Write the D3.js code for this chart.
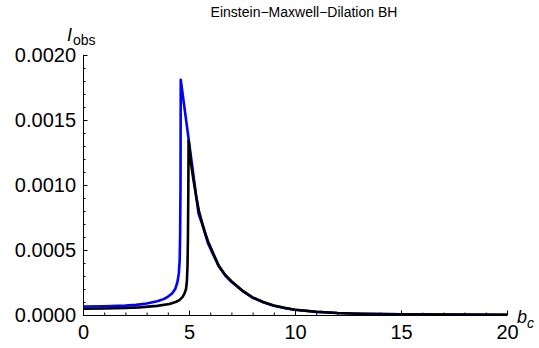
<!DOCTYPE html>
<html>
<head>
<meta charset="utf-8">
<script src="https://cdn.jsdelivr.net/npm/d3@7"></script>
<style>
  body { margin: 0; background: #fff; }
  svg { display: block; font-family: "Liberation Sans", Arial, sans-serif; }
</style>
</head>
<body>
<svg id="chart" width="539" height="348"></svg>
<script>
// values
var title = "Einstein\u2212Maxwell\u2212Dilation BH";

var blueB = [0, 1, 2, 2.5, 3, 3.5, 3.8, 4.0, 4.2, 4.35, 4.45, 4.52, 4.56, 4.58, 4.6, 4.61,
             5.45, 5.6, 5.75, 5.9, 6.1, 6.4, 6.7, 7.0, 7.5, 8.0, 8.5, 9.0, 9.5, 10, 11, 12, 13, 14, 15, 17, 20];
var blueI = [0.000065, 0.000067, 0.000072, 0.000078, 0.000088, 0.000105, 0.000122, 0.00014,
             0.000165, 0.0002, 0.00025, 0.00032, 0.00042, 0.0006, 0.001, 0.00181,
             0.00078, 0.00071, 0.00063, 0.00055, 0.00048, 0.000375, 0.000305, 0.000255, 0.000188,
             0.000133, 0.000098, 0.000071, 0.000054, 0.00004, 0.000024, 0.000015, 0.00001,
             0.000007, 0.000005, 0.000003, 0.0000015];

var blackB = [0, 1, 2, 2.65, 3.5, 4.08, 4.4, 4.55, 4.7, 4.79, 4.86, 4.9, 4.93, 4.95, 4.97, 4.98,
              5.1, 5.2, 5.34, 5.47, 5.6, 5.75, 5.9, 6.1, 6.4, 6.7, 7.0, 7.5, 8.0, 8.5, 9.0, 9.5,
              10, 11, 12, 13, 14, 15, 17, 20];
var blackI = [0.000048, 0.00005, 0.000054, 0.000059, 0.00007, 0.000084, 0.000102, 0.000115,
              0.00014, 0.000166, 0.0002, 0.00026, 0.00038, 0.0006, 0.001, 0.00134,
              0.00116, 0.00105, 0.00091, 0.0008, 0.00072, 0.00064, 0.000565, 0.00049, 0.00038,
              0.00031, 0.00026, 0.00019, 0.000136, 0.0001, 0.000073, 0.000055,
              0.000041, 0.000025, 0.000015, 0.00001, 0.000007, 0.000005, 0.000003, 0.0000015];

var xMajor = [0, 5, 10, 15, 20];
var yMajor = [0, 0.0005, 0.001, 0.0015, 0.002];

var svg = d3.select("#chart");

var x = d3.scaleLinear().domain([0, 20]).range([83, 507]);
var y = d3.scaleLinear().domain([0, 0.002]).range([315, 55]);

// minor ticks
var xMinor = d3.range(0, 20.001, 1).filter(function(d) { return d % 5 !== 0; });
var yMinor = d3.range(0, 21).map(function(d) { return d * 0.0001; })
    .filter(function(d, i) { return i % 5 !== 0; });

svg.append("g")
    .attr("transform", "translate(0," + y(0) + ")")
    .call(d3.axisBottom(x).tickValues(xMinor).tickSize(-2.5).tickFormat(""))
    .call(function(g) { g.select(".domain").remove(); });

svg.append("g")
    .attr("transform", "translate(" + x(0) + ",0)")
    .call(d3.axisLeft(y).tickValues(yMinor).tickSize(-2.5).tickFormat(""))
    .call(function(g) { g.select(".domain").remove(); });

// major axes
svg.append("g")
    .attr("transform", "translate(0," + y(0) + ")")
    .call(d3.axisBottom(x).tickValues(xMajor).tickSizeInner(-4.5).tickSizeOuter(0).tickPadding(10)
        .tickFormat(d3.format("d")));

svg.append("g")
    .attr("transform", "translate(" + x(0) + ",0)")
    .call(d3.axisLeft(y).tickValues(yMajor).tickSizeInner(-4.5).tickSizeOuter(0).tickPadding(7)
        .tickFormat(d3.format(".4f")));

svg.selectAll(".tick text")
    .attr("font-size", 20)
    .attr("font-family", "Liberation Sans, Arial, sans-serif")
    .attr("fill", "#000");
svg.selectAll(".domain, .tick line").attr("stroke", "#000").attr("stroke-width", 1);

// curves
var line = d3.line()
    .x(function(d) { return x(d[0]); })
    .y(function(d) { return y(d[1]); });

var blue = d3.zip(blueB, blueI);
var black = d3.zip(blackB, blackI);

svg.append("path")
    .datum(blue)
    .attr("d", line)
    .attr("fill", "none")
    .attr("stroke", "#0000ff")
    .attr("stroke-width", 2.6)
    .attr("stroke-linejoin", "round");

svg.append("path")
    .datum(black)
    .attr("d", line)
    .attr("fill", "none")
    .attr("stroke", "#000")
    .attr("stroke-width", 2.6)
    .attr("stroke-linejoin", "round");

// title
svg.append("text")
    .attr("x", 304)
    .attr("y", 17)
    .attr("text-anchor", "middle")
    .attr("font-size", 14)
    .text(title);

// axis labels
var yl = svg.append("text").attr("x", 67).attr("y", 41).attr("font-size", 18);
yl.append("tspan").attr("font-style", "italic").text("I");
yl.append("tspan").attr("font-size", 14).attr("dy", 4).attr("dx", 1).text("obs");

var xl = svg.append("text").attr("x", 517).attr("y", 323).attr("font-size", 18);
xl.append("tspan").attr("font-style", "italic").text("b");
xl.append("tspan").attr("font-style", "italic").attr("font-size", 14).attr("dy", 5).text("c");
</script>
</body>
</html>
